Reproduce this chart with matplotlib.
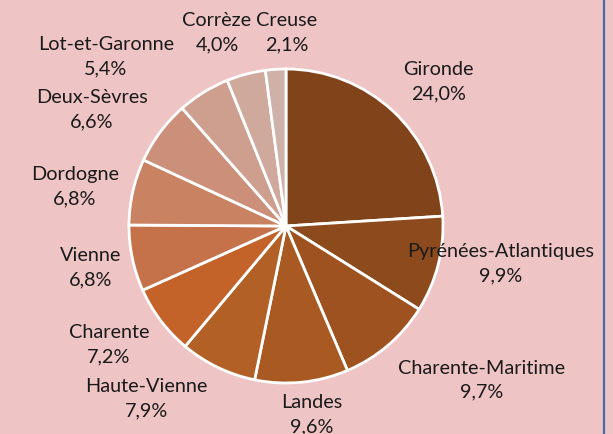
import numpy as np
import matplotlib.pyplot as plt
from matplotlib.lines import Line2D

plt.rcParams['font.family'] = ['Lato', 'DejaVu Sans']

departements = ['Gironde', 'Pyrénées-Atlantiques', 'Charente-Maritime', 'Landes',
                'Haute-Vienne', 'Charente', 'Vienne', 'Dordogne', 'Deux-Sèvres',
                'Lot-et-Garonne', 'Corrèze', 'Creuse']
parts = [24.0, 9.9, 9.7, 9.6, 7.9, 7.2, 6.8, 6.8, 6.6, 5.4, 4.0, 2.1]
colors = ['#80431A', '#8C4A1D', '#9E521F', '#A95A22', '#B36026', '#C3632A',
          '#C5714A', '#C98262', '#CC907A', '#CE9F8E', '#CFA99B', '#CEB1A9']

bg = '#EFC4C5'

# label centres in pixels (layout only)
label_px = [(438, 82), (501, 264), (482, 380), (312, 415),
            (146, 399), (109, 345), (91, 268), (75, 187), (92, 110),
            (106, 57), (217, 33), (287, 33)]

W, H = 613, 434
cx, cy, r = 286, 226, 157

fig = plt.figure(figsize=(W / 100, H / 100), dpi=100, facecolor=bg)
ax = fig.add_axes([0, 0, 1, 1])
ax.set_facecolor(bg)

ax.pie(parts, colors=colors, startangle=90, counterclock=False, radius=1,
       wedgeprops=dict(edgecolor='white', linewidth=2))

ax.set_xlim(-cx / r, (W - cx) / r)
ax.set_ylim(-(H - cy) / r, cy / r)
ax.set_aspect('equal')
ax.axis('off')

for name, val, (px, py) in zip(departements, parts, label_px):
    txt = name + '\n' + ('%.1f%%' % val).replace('.', ',')
    ax.text((px - cx) / r, (cy - py) / r, txt, ha='center', va='center',
            fontsize=14.3, color='#1a1a1a', linespacing=1.5)

# blue frame edge on the right
fig.add_artist(Line2D([603.5 / W, 603.5 / W], [0, 1], color='#4A6AA8', lw=1.6,
                      transform=fig.transFigure))

plt.savefig('out.png', dpi=100, facecolor=bg)
